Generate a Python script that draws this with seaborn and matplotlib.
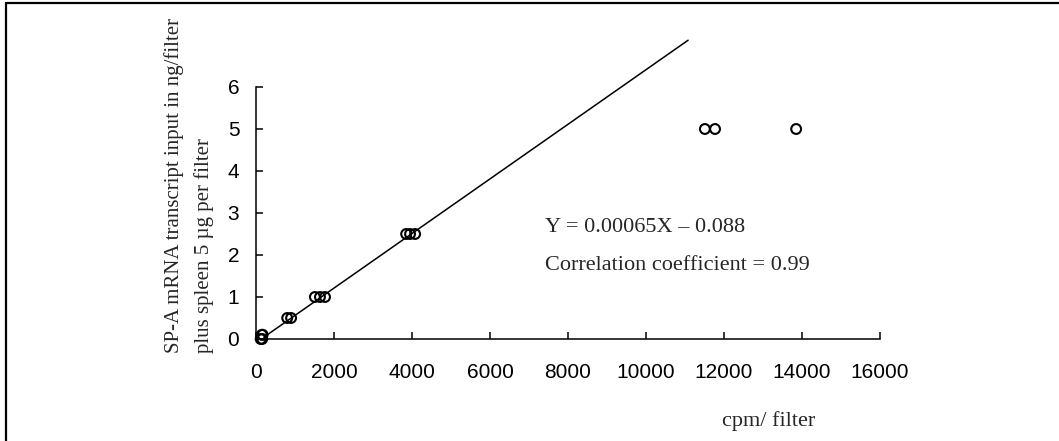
import numpy as np
import pandas as pd
import matplotlib
matplotlib.use("Agg")
import matplotlib.pyplot as plt
import seaborn as sns
from matplotlib.lines import Line2D

# ===========================
# Data
# ===========================
cpm = [120, 160, 150, 170,
       800, 900,
       1510, 1640, 1770,
       3850, 3950, 4080,
       11510, 11770, 13850]
ng_filter = [0.0, 0.0, 0.1, 0.1,
             0.5, 0.5,
             1.0, 1.0, 1.0,
             2.5, 2.5, 2.5,
             5.0, 5.0, 5.0]

slope = 0.00065
intercept = -0.088
fit_x = [200, 11080]

x_ticks = [0, 2000, 4000, 6000, 8000, 10000, 12000, 14000, 16000]
y_ticks = [0, 1, 2, 3, 4, 5, 6]

df = pd.DataFrame({"cpm": cpm, "ng": ng_filter})
fit = pd.DataFrame({"cpm": fit_x, "ng": [slope * v + intercept for v in fit_x]})

# ===========================
# Style
# ===========================
sns.set_style("ticks")
plt.rcParams["font.family"] = ["Liberation Sans", "DejaVu Sans"]
serif = ["Liberation Serif", "DejaVu Serif"]

W, H = 1059, 441
fig = plt.figure(figsize=(W / 100, H / 100), dpi=100)
ax = fig.add_axes([256 / W, 1 - 339 / H, (880 - 256) / W, (339 - 87) / H])

# ===========================
# Plot
# ===========================
sns.lineplot(data=fit, x="cpm", y="ng", ax=ax, color="black", linewidth=1.1)
ax.lines[-1].set_clip_on(False)

sns.scatterplot(data=df, x="cpm", y="ng", ax=ax, marker="o", s=50,
                facecolor="none", edgecolor="black", linewidth=1.5,
                clip_on=False, zorder=3)

ax.set_xlim(0, 16000)
ax.set_ylim(0, 6)
ax.set_xticks(x_ticks)
ax.set_yticks(y_ticks)
ax.set_xlabel("")
ax.set_ylabel("")
ax.tick_params(axis="both", direction="in", length=5, width=1.1,
               labelsize=15, colors="black")
ax.tick_params(axis="x", pad=17)
ax.tick_params(axis="y", pad=12)
for s in ["top", "right"]:
    ax.spines[s].set_visible(False)
for s in ["left", "bottom"]:
    ax.spines[s].set_linewidth(1.1)
    ax.spines[s].set_color("black")

# annotations
fig.text(545 / W, 1 - 228 / H, "Y = 0.00065X \u2013 0.088", family=serif,
         fontsize=16, ha="left", va="center")
fig.text(545 / W, 1 - 266 / H, "Correlation coefficient = 0.99", family=serif,
         fontsize=16, ha="left", va="center")

# axis titles
fig.text(174 / W, 1 - 353 / H, "SP-A mRNA transcript input in ng/filter",
         family=serif, fontsize=15, rotation=90, ha="center", va="bottom")
fig.text(204 / W, 1 - 353 / H, "plus spleen 5 \u00b5g per filter",
         family=serif, fontsize=15, rotation=90, ha="center", va="bottom")
fig.text(722 / W, 1 - 421 / H, "cpm/ filter", family=serif, fontsize=16,
         ha="left", va="center")

# frame around figure (top and left)
fig.add_artist(Line2D([5.5 / W, 1.0], [1 - 2.5 / H, 1 - 2.5 / H],
                      transform=fig.transFigure, color="black", linewidth=1.6))
fig.add_artist(Line2D([5.5 / W, 5.5 / W], [0, 1 - 2.5 / H],
                      transform=fig.transFigure, color="black", linewidth=1.6))

fig.savefig("out.png", dpi=100)
